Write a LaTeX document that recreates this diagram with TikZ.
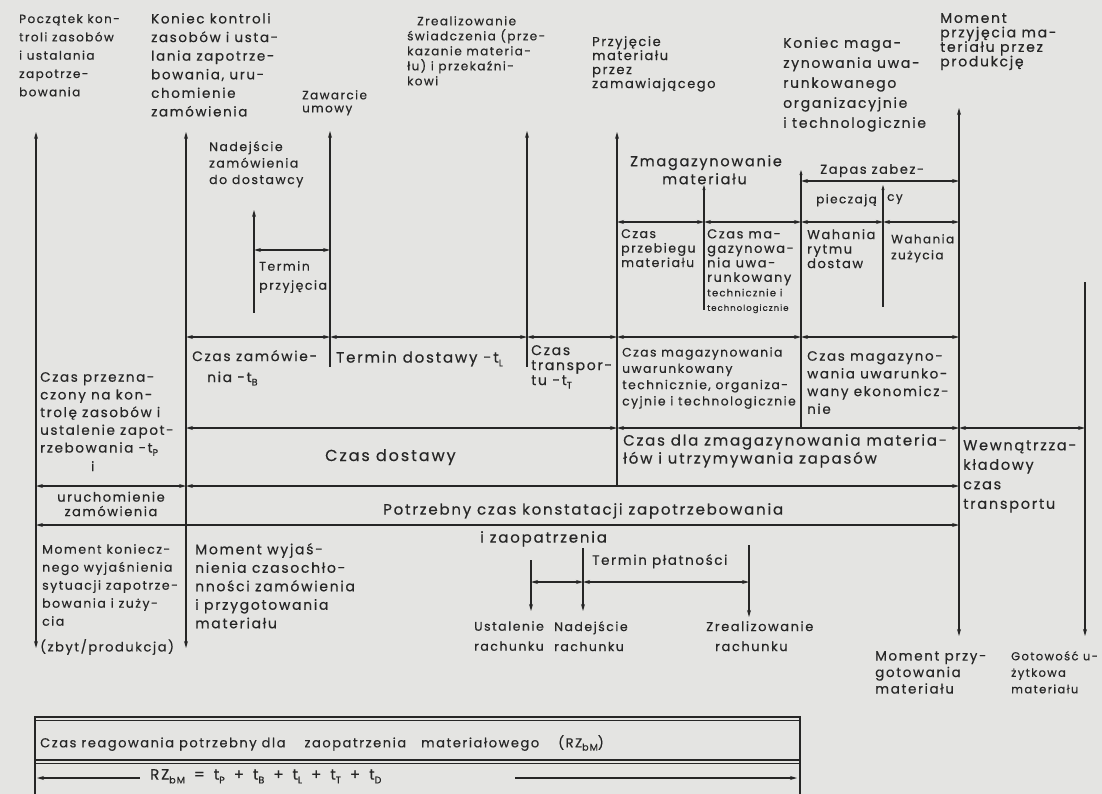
\documentclass[tikz,border=0pt]{standalone}
\usepackage{fontspec}
\setmainfont{Poppins}[LetterSpace=12,FakeBold=0.4]
\usetikzlibrary{arrows.meta,calc}
\definecolor{ink}{RGB}{38,38,38}
\definecolor{paper}{RGB}{228,228,226}
\newcommand{\hf}[2]{\fontsize{#1}{#2}\selectfont}
\newcommand{\sbs}[1]{\raisebox{-0.45ex}{\fontsize{9.5}{9.5}\selectfont #1}}
\newcommand{\gp}{\hspace{9pt}}
\tikzset{
  arw/.tip={Stealth[length=7pt,width=4pt]},
  arws/.tip={Stealth[length=5pt,width=3pt]},
  lbl/.style={align=left,inner sep=0pt,anchor=north west,text=ink},
  ln/.style={draw=ink,line width=1.2pt},
  thinln/.style={draw=ink,line width=0.8pt},
  dim/.style={ln,arw-arw},
}
\begin{document}
\begin{tikzpicture}[x=1pt,y=-1pt]
\fill[paper] (0,0) rectangle (1102,794);
\useasboundingbox (0,0) rectangle (1102,794);

% ---------- coordinates ----------
\coordinate (v1t) at (36,132);  \coordinate (v1b) at (36,648);
\coordinate (v2t) at (186,132); \coordinate (v2b) at (186,648);
\coordinate (v3t) at (254,210); \coordinate (v3b) at (254,313);
\coordinate (v4t) at (330,131); \coordinate (v4b) at (330,367);
\coordinate (v5t) at (527,131); \coordinate (v5b) at (527,367);
\coordinate (v6t) at (617,132); \coordinate (v6b) at (617,486);
\coordinate (v7t) at (704,185); \coordinate (v7b) at (704,310);
\coordinate (v8t) at (801,170); \coordinate (v8b) at (801,428);
\coordinate (v9t) at (883,185); \coordinate (v9b) at (883,307);
\coordinate (v10t) at (959,108); \coordinate (v10b) at (959,636);
\coordinate (v11t) at (1085,282); \coordinate (v11b) at (1085,636);
\coordinate (r1t) at (531,560); \coordinate (r1b) at (531,611);
\coordinate (r2t) at (583,548); \coordinate (r2b) at (583,611);
\coordinate (r3t) at (749,545); \coordinate (r3b) at (749,617);

\coordinate (yZ) at (0,181);
\coordinate (yH1) at (0,222);
\coordinate (yTP) at (0,250);
\coordinate (yH2) at (0,337);
\coordinate (yH3) at (0,428);
\coordinate (yH4) at (0,486);
\coordinate (yH5) at (0,525);
\coordinate (yR) at (0,582);

% ---------- verticals ----------
\draw[ln,arw-arw] (v1t) -- (v1b);
\draw[ln,arw-arw] (v2t) -- (v2b);
\draw[ln,arw-] (v3t) -- (v3b);
\draw[ln,arw-] (v4t) -- (v4b);
\draw[ln,arw-] (v5t) -- (v5b);
\draw[ln,arw-] (v6t) -- (v6b);
\draw[ln,arws-] (v7t) -- (v7b);
\draw[ln,arws-] (v8t) -- (v8b);
\draw[ln,arws-] (v9t) -- (v9b);
\draw[ln,arw-arw] (v10t) -- (v10b);
\draw[ln,-arw] (v11t) -- (v11b);
\draw[ln,-arw] (r1t) -- (r1b);
\draw[ln,-arw] (r2t) -- (r2b);
\draw[ln,-arw] (r3t) -- (r3b);

% ---------- horizontals ----------
\draw[dim] (v8t |- yZ) -- (v10t |- yZ);
\draw[dim] (v3t |- yTP) -- (v4t |- yTP);

\draw[dim] (v6t |- yH1) -- (v7t |- yH1);
\draw[dim] (v7t |- yH1) -- (v8t |- yH1);
\draw[dim] (v8t |- yH1) -- (v9t |- yH1);
\draw[dim] (v9t |- yH1) -- (v10t |- yH1);

\draw[dim] (v2t |- yH2) -- (v4t |- yH2);
\draw[dim] (v4t |- yH2) -- (v5t |- yH2);
\draw[dim] (v5t |- yH2) -- (v6t |- yH2);
\draw[dim] (v6t |- yH2) -- (v8t |- yH2);
\draw[dim] (v8t |- yH2) -- (v10t |- yH2);

\draw[dim] (v2t |- yH3) -- (v6t |- yH3);
\draw[dim] (v6t |- yH3) -- (v10t |- yH3);
\draw[dim] (v10t |- yH3) -- (v11t |- yH3);

\draw[dim] (v1t |- yH4) -- (v2t |- yH4);
\draw[dim] (v2t |- yH4) -- (v10t |- yH4);

\draw[dim] (v1t |- yH5) -- (v10t |- yH5);

\draw[dim] (r1t |- yR) -- (r2t |- yR);
\draw[dim] (r2t |- yR) -- (r3t |- yR);

% ---------- top labels ----------
\node[lbl,font=\hf{12}{18.3}] (tA) at (19,14) {Początek kon-\\troli zasobów\\i ustalania\\zapotrze-\\bowania};
\node[lbl,font=\hf{13.5}{18.6}] (tB) at (151,13) {Koniec kontroli\\zasobów i usta-\\lania zapotrze-\\bowania, uru-\\chomienie\\zamówienia};
\node[lbl,font=\hf{12}{13}] (tC) at (302,90) {Zawarcie\\umowy};
\node[lbl,font=\hf{12.5}{16.5}] (tD) at (209,141) {Nadejście\\zamówienia\\do dostawcy};
\node[lbl,font=\hf{12}{15}] (tE) at (407,16) {\hspace*{10pt}Zrealizowanie\\świadczenia (prze-\\kazanie materia-\\łu) i przekaźni-\\kowi};
\node[lbl,font=\hf{13}{14}] (tF) at (592,36) {Przyjęcie\\materiału\\przez\\zamawiającego};
\node[lbl,font=\hf{14}{20}] (tG) at (783,37) {Koniec maga-\\zynowania uwa-\\runkowanego\\organizacyjnie\\i technologicznie};
\node[lbl,font=\hf{14}{14.5}] (tH) at (940,13) {Moment\\przyjęcia ma-\\teriału przez\\produkcję};

\node[lbl,font=\hf{14.5}{18}] (tZm) at (630,155) {Zmagazynowanie\\\hspace*{32pt}materiału};
\node[lbl,font=\hf{13}{14}] (tZa) at (820,164) {Zapas zabez-};
\node[lbl,font=\hf{12}{14}] (tZb) at (816,194) {pieczają};
\node[lbl,font=\hf{12}{14}] (tZc) at (887,194) {cy};
\node[lbl,font=\hf{12.5}{19}] (tTq) at (259,261) {Termin\\przyjęcia};

% ---------- row H1 ----------
\node[lbl,font=\hf{12.5}{14.5}] (t11) at (621,229) {Czas\\przebiegu\\materiału};
\node[lbl,font=\hf{13}{14.5}] (t12) at (707,229) {Czas ma-\\gazynowa-\\nia uwa-\\runkowany\\{\hf{10}{14.5}technicznie i}\\{\hf{8.5}{12}technologicznie}};
\node[lbl,font=\hf{13}{14.5}] (t13) at (807,229) {Wahania\\rytmu\\dostaw};
\node[lbl,font=\hf{12}{16}] (t14) at (891,234) {Wahania\\zużycia};

% ---------- row H2 ----------
\node[lbl,font=\hf{13.8}{21}] (t21) at (192,350) {Czas zamówie-\\\hspace*{15pt}nia -t\sbs{B}};
\node[lbl,font=\hf{15}{14}] (t22) at (336,351) {Termin dostawy -t\sbs{L}};
\node[lbl,font=\hf{14}{15}] (t23) at (531,345) {Czas\\transpor-\\tu -t\sbs{T}};
\node[lbl,font=\hf{12.3}{16.3}] (t24) at (622,347) {Czas magazynowania\\uwarunkowany\\technicznie, organiza-\\cyjnie i technologicznie};
\node[lbl,font=\hf{13.5}{17.7}] (t25) at (807,351) {Czas magazyno-\\wania uwarunko-\\wany ekonomicz-\\nie};

\node[lbl,font=\hf{13.5}{17.7}] (tP) at (40,372) {Czas przezna-\\czony na kon-\\trolę zasobów i\\ustalenie zapot-\\rzebowania -t\sbs{P}};
\node[lbl,font=\hf{13}{14}] (tPi) at (91,461) {i};

% ---------- row H3 ----------
\node[lbl,font=\hf{16}{14}] (t31) at (325,449) {Czas dostawy};
\node[lbl,font=\hf{15}{18}] (t32) at (623,434) {Czas dla zmagazynowania materia-\\łów i utrzymywania zapasów};
\node[lbl,font=\hf{14.5}{19.5}] (t33) at (963,440) {Wewnątrzza-\\kładowy\\czas\\transportu};

% ---------- rows H4 / H5 ----------
\node[align=center,inner sep=0pt,text=ink,font=\hf{13}{14.5}] (tU) at (111,504) {uruchomienie\\zamówienia};
\node[lbl,font=\hf{15}{14}] (tK) at (383,503) {Potrzebny czas konstatacji zapotrzebowania};
\node[lbl,font=\hf{15}{14}] (tK2) at (480,531) {i zaopatrzenia};

\node[lbl,font=\hf{12.5}{18}] (tM1) at (42,544) {Moment koniecz-\\nego wyjaśnienia\\sytuacji zapotrze-\\bowania i zuży-\\cia};
\node[lbl,font=\hf{13}{14}] (tM1b) at (40,639) {(zbyt/produkcja)};
\node[lbl,font=\hf{14}{18.5}] (tM2) at (195,543) {Moment wyjaś-\\nienia czasochło-\\nności zamówienia\\i przygotowania\\materiału};

% ---------- payment ----------
\node[lbl,font=\hf{13.5}{14}] (tTP) at (592,554) {Termin płatności};
\node[lbl,font=\hf{12.5}{20}] (tR1) at (474,621) {Ustalenie\\rachunku};
\node[lbl,font=\hf{12.5}{20}] (tR2) at (554,621) {Nadejście\\rachunku};
\node[lbl,font=\hf{13}{20}] (tR3) at (706,621) {Zrealizowanie\\\hspace*{9pt}rachunku};

% ---------- bottom right ----------
\node[lbl,font=\hf{13.5}{16.5}] (tMP) at (875,651) {Moment przy-\\gotowania\\materiału};
\node[lbl,font=\hf{11.5}{16.5}] (tGU) at (1011,651) {Gotowość u-\\żytkowa\\materiału};

% ---------- bottom box ----------
\coordinate (bxTL) at (35,717); \coordinate (bxTR) at (800,717);
\coordinate (bxBL) at (35,794); \coordinate (bxBR) at (800,794);
\coordinate (bxM) at (0,760);
\draw[ln] (bxBL) -- (bxTL) -- (bxTR) -- (bxBR);
\draw[thinln] ($(bxTL)+(0,3)$) -- ($(bxTR)+(0,3)$);
\draw[ln] (bxTL |- bxM) -- (bxTR |- bxM);
\draw[thinln] ($(bxTL |- bxM)+(0,3)$) -- ($(bxTR |- bxM)+(0,3)$);
\node[lbl,font=\hf{13}{14}] (tRZ) at (40,735) {Czas reagowania potrzebny dla\hspace{14pt} zaopatrzenia\hspace{10pt} materiałowego\hspace{14pt} (RZ\sbs{bM})};
\node[lbl,font=\hf{15}{14}] (tForm) at (150,769) {RZ\sbs{bM}\gp=\gp t\sbs{P}\gp+\gp t\sbs{B}\gp+\gp t\sbs{L}\gp+\gp t\sbs{T}\gp+\gp t\sbs{D}};
\coordinate (fA) at (37,778); \coordinate (fB) at (140,778);
\coordinate (fC) at (515,778); \coordinate (fD) at (797,778);
\draw[ln,arw-] (fA) -- (fB);
\draw[ln,-arw] (fC) -- (fD);
\end{tikzpicture}
\end{document}
